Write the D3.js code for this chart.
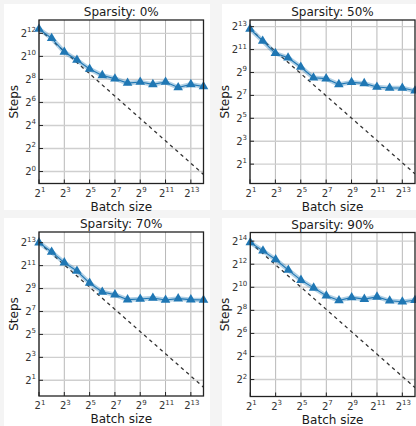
<!DOCTYPE html>
<html>
<head>
<meta charset="utf-8">
<script src="https://cdn.jsdelivr.net/npm/d3@7"></script>
<style>
  html, body { margin: 0; padding: 0; background: #f3f3f3; }
  svg { display: block; font-family: "DejaVu Sans", sans-serif; }
</style>
</head>
<body>
<svg id="chart" width="416" height="426"></svg>
<script>
// ---- data ----
const batchExponents = [1,2,3,4,5,6,7,8,9,10,11,12,13,14];
const xTickExponents = [1,3,5,7,9,11,13];
const titles = ["Sparsity: 0%", "Sparsity: 50%", "Sparsity: 70%", "Sparsity: 90%"];
// steps as log2 exponents
const steps0  = [12.38,11.57,10.38,9.68,8.90,8.35,8.06,7.68,7.77,7.57,7.77,7.30,7.57,7.39];
const steps50 = [12.80,11.75,10.67,10.29,9.48,8.54,8.46,7.96,8.14,8.05,7.73,7.64,7.64,7.41];
const steps70 = [13.00,12.19,11.26,10.53,9.48,8.70,8.47,8.03,8.09,8.17,8.00,8.12,8.03,8.00];
const steps90 = [13.88,13.16,12.41,11.49,10.62,9.95,9.26,8.86,9.12,8.97,9.17,8.83,8.74,8.88];
// dashed "ideal" line endpoints (log2 exponent) at batch 2^1 and 2^14
const idealStart = [12.38, 12.80, 13.00, 13.88];
const idealEnd   = [-0.25, 0.15, 0.40, 1.30];
const yTicks0  = [0,2,4,6,8,10,12];
const yTicks50 = [1,3,5,7,9,11,13];
const yTicks70 = [1,3,5,7,9,11,13];
const yTicks90 = [2,4,6,8,10,12,14];
const yDomains = [[-1.04,13.16],[-0.69,13.58],[-0.37,13.93],[0.53,14.75]];

const series = [steps0, steps50, steps70, steps90];
const yTicksAll = [yTicks0, yTicks50, yTicks70, yTicks90];

// ---- layout ----
const cards = [
  {x:4, y:4, w:206, h:206},
  {x:222, y:4, w:194, h:206},
  {x:4, y:218, w:206, h:208},
  {x:222, y:218, w:194, h:208}
];
const plots = [
  {x0:39, x1:203.5, y0:20, y1:183.5},
  {x0:250, x1:415, y0:20, y1:183.5},
  {x0:39, x1:203.5, y0:232, y1:396},
  {x0:250.3, x1:415, y0:232.5, y1:396.5}
];

const svg = d3.select("#chart");
svg.append("rect").attr("width",416).attr("height",426).attr("fill","#f4f4f4");
cards.forEach(c => svg.append("rect").attr("x",c.x).attr("y",c.y).attr("width",c.w).attr("height",c.h).attr("fill","#ffffff"));

function pow2Label(sel, base, exp) {
  sel.append("tspan").text(base);
  sel.append("tspan").attr("dy", -4.5).attr("font-size", 7).text(exp);
}

plots.forEach((p, i) => {
  const g = svg.append("g");
  const x = d3.scaleLog().base(2).domain([Math.pow(2,1), Math.pow(2,14)]).range([p.x0, p.x1]);
  const y = d3.scaleLog().base(2).domain(yDomains[i].map(e => Math.pow(2,e))).range([p.y1, p.y0]);

  const clipId = "clip" + i;
  g.append("clipPath").attr("id", clipId).append("rect")
    .attr("x", p.x0).attr("y", p.y0).attr("width", p.x1 - p.x0).attr("height", p.y1 - p.y0);

  // grid
  g.selectAll(".vg").data(xTickExponents).join("line")
    .attr("x1", d => x(Math.pow(2,d))).attr("x2", d => x(Math.pow(2,d)))
    .attr("y1", p.y0).attr("y2", p.y1)
    .attr("stroke", "#b8b8b8").attr("stroke-width", 1);
  g.selectAll(".hg").data(yTicksAll[i]).join("line")
    .attr("x1", p.x0).attr("x2", p.x1)
    .attr("y1", d => y(Math.pow(2,d))).attr("y2", d => y(Math.pow(2,d)))
    .attr("stroke", "#cfcfcf").attr("stroke-width", 1.4);

  const pg = g.append("g").attr("clip-path", `url(#${clipId})`);
  // ideal dashed line
  pg.append("line")
    .attr("x1", x(Math.pow(2,1))).attr("y1", y(Math.pow(2, idealStart[i])))
    .attr("x2", x(Math.pow(2,14))).attr("y2", y(Math.pow(2, idealEnd[i])))
    .attr("stroke", "#333").attr("stroke-width", 1.3).attr("stroke-dasharray", "3.5,3.5");

  const pts = batchExponents.map((e, k) => [Math.pow(2,e), Math.pow(2, series[i][k])]);
  const line = d3.line().x(d => x(d[0])).y(d => y(d[1]));
  pg.append("path").attr("d", line(pts)).attr("fill","none")
    .attr("stroke", "#1f77b4").attr("stroke-opacity", 0.35).attr("stroke-width", 4.5);
  pg.append("path").attr("d", line(pts)).attr("fill","none")
    .attr("stroke", "#1f77b4").attr("stroke-width", 1.1);
  const tri = d3.symbol().type(d3.symbolTriangle).size(40);
  g.selectAll(".m").data(pts).join("path")
    .attr("d", tri)
    .attr("transform", d => `translate(${x(d[0])},${y(d[1])})`)
    .attr("fill", "#1f77b4");

  // frame
  g.append("rect").attr("x", p.x0).attr("y", p.y0).attr("width", p.x1 - p.x0).attr("height", p.y1 - p.y0)
    .attr("fill","none").attr("stroke","#222").attr("stroke-width", 1.3);

  // ticks (inward)
  g.selectAll(".xt").data(xTickExponents).join("line")
    .attr("x1", d => x(Math.pow(2,d))).attr("x2", d => x(Math.pow(2,d)))
    .attr("y1", p.y1).attr("y2", p.y1 - 4).attr("stroke","#222");
  g.selectAll(".yt").data(yTicksAll[i]).join("line")
    .attr("x1", p.x0).attr("x2", p.x0 + 4)
    .attr("y1", d => y(Math.pow(2,d))).attr("y2", d => y(Math.pow(2,d))).attr("stroke","#222");

  // tick labels
  xTickExponents.forEach(e => {
    const t = g.append("text").attr("x", x(Math.pow(2,e)) + 1).attr("y", p.y1 + 13)
      .attr("text-anchor","middle").attr("font-size", 10).attr("fill","#333");
    pow2Label(t, "2", e);
  });
  yTicksAll[i].forEach(e => {
    const t = g.append("text").attr("x", p.x0 - 3).attr("y", y(Math.pow(2,e)) + 3.5)
      .attr("text-anchor","end").attr("font-size", 10).attr("fill","#333");
    pow2Label(t, "2", e);
  });

  // title and axis labels
  g.append("text").attr("x", (p.x0 + p.x1)/2).attr("y", p.y0 - 4)
    .attr("text-anchor","middle").attr("font-size", 12).attr("fill","#1a1a1a").text(titles[i]);
  g.append("text").attr("x", (p.x0 + p.x1)/2).attr("y", p.y1 + 27)
    .attr("text-anchor","middle").attr("font-size", 12).attr("fill","#1a1a1a").text("Batch size");
  const lx = p.x0 - 21, ly = (p.y0 + p.y1)/2;
  g.append("text").attr("transform", `translate(${lx},${ly}) rotate(-90)`)
    .attr("text-anchor","middle").attr("font-size", 12).attr("fill","#1a1a1a").text("Steps");
});
</script>
</body>
</html>
